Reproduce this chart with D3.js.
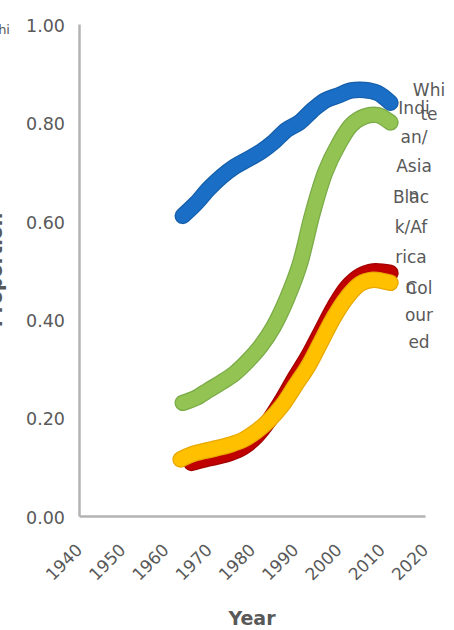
<!DOCTYPE html>
<html>
<head>
<meta charset="utf-8">
<script src="https://cdn.jsdelivr.net/npm/d3@7"></script>
<style>
  html, body { margin: 0; padding: 0; background: #ffffff; }
  svg { display: block; font-family: "DejaVu Sans", sans-serif; }
</style>
</head>
<body>
<svg id="chart" width="454" height="630"></svg>
<script>
// ---- data ----
const seriesNames = ["White", "Indian/Asian", "Black/African", "Coloured"];
const whiteYears = [1964, 1967, 1970, 1973, 1976, 1979, 1982, 1985, 1988, 1991, 1994, 1997, 2000, 2003, 2006, 2009, 2012];
const whiteValues = [0.61, 0.635, 0.665, 0.69, 0.71, 0.725, 0.74, 0.76, 0.785, 0.80, 0.825, 0.845, 0.855, 0.865, 0.866, 0.86, 0.84];
const indianYears = [1964, 1967, 1970, 1973, 1976, 1979, 1982, 1985, 1988, 1991, 1994, 1997, 2000, 2003, 2006, 2009, 2012];
const indianValues = [0.23, 0.24, 0.256, 0.272, 0.29, 0.315, 0.345, 0.385, 0.44, 0.51, 0.615, 0.70, 0.755, 0.795, 0.812, 0.815, 0.80];
const blackYears = [1966, 1969, 1972, 1975, 1978, 1981, 1984, 1987, 1990, 1993, 1996, 1999, 2002, 2005, 2008, 2012];
const blackValues = [0.108, 0.115, 0.121, 0.128, 0.14, 0.162, 0.195, 0.236, 0.282, 0.325, 0.375, 0.425, 0.465, 0.488, 0.497, 0.494];
const colouredYears = [1963.5, 1966, 1969, 1972, 1975, 1978, 1981, 1984, 1987, 1990, 1993, 1996, 1999, 2002, 2005, 2008, 2010, 2012];
const colouredValues = [0.115, 0.125, 0.132, 0.138, 0.145, 0.155, 0.172, 0.195, 0.225, 0.265, 0.305, 0.355, 0.405, 0.445, 0.472, 0.48, 0.478, 0.474];
const labelLines = [["Whi", "te"], ["Indi", "an/", "Asia", "n"], ["Blac", "k/Af", "rica", "n"], ["Col", "our", "ed"]];
const xTicks = [1940, 1950, 1960, 1970, 1980, 1990, 2000, 2010, 2020];
const yTicks = [0, 0.2, 0.4, 0.6, 0.8, 1.0];
const xTitle = "Year";
const yTitle = "Proportion";

// ---- styles / layout ----
const colors = ["#1a6ec6", "#92c353", "#c00000", "#ffc000"];
const edgeColors = ["#155fab", "#7aab48", "#a30000", "#e8a800"];
const labelLayout = [
  { cx: 429, y0: 96, lh: 24 },
  { cx: 414, y0: 114, lh: 29 },
  { cx: 411, y0: 203, lh: 30 },
  { cx: 419, y0: 294, lh: 27 }
];
const textColor = "#595959";
const axisColor = "#b3b3b3";

const svg = d3.select("#chart");
const x = d3.scaleLinear().domain([1940, 2020]).range([79, 425]);
const y = d3.scaleLinear().domain([0, 1]).range([516, 24]);

// Y axis
const yAxis = svg.append("g")
  .attr("transform", `translate(${x(1940)},0)`)
  .call(d3.axisLeft(y).tickValues(yTicks).tickSize(0).tickSizeOuter(0).tickPadding(14).tickFormat(d3.format(".2f")));
yAxis.select(".domain").attr("stroke", axisColor).attr("stroke-width", 2.5);
yAxis.selectAll("text")
  .attr("fill", textColor).attr("dy", "0.42em")
  .style("font-family", "DejaVu Sans, sans-serif").style("font-size", "17.5px");

// X axis
const xAxis = svg.append("g")
  .attr("transform", `translate(0,${y(0)})`)
  .call(d3.axisBottom(x).tickValues(xTicks).tickSize(0).tickSizeOuter(0).tickFormat(d3.format("d")));
xAxis.select(".domain").attr("stroke", axisColor).attr("stroke-width", 2.5);
xAxis.selectAll("text")
  .attr("fill", textColor)
  .attr("x", 0).attr("y", 0).attr("dy", 0)
  .attr("text-anchor", "end")
  .attr("transform", "translate(4,35) rotate(-45)")
  .style("font-family", "DejaVu Sans, sans-serif").style("font-size", "17px");

// Axis titles
svg.append("text")
  .attr("x", (x(1940) + x(2020)) / 2).attr("y", 625)
  .attr("text-anchor", "middle")
  .attr("fill", textColor)
  .style("font-weight", "bold").style("font-size", "19px")
  .text(xTitle);
svg.append("text")
  .attr("transform", `translate(2,${(y(0) + y(1)) / 2}) rotate(-90)`)
  .attr("text-anchor", "middle")
  .attr("fill", textColor)
  .style("font-weight", "bold").style("font-size", "19px")
  .text(yTitle);

// clipped fragment from a neighbouring panel (top-left)
svg.append("text")
  .attr("x", 10).attr("y", 34)
  .attr("text-anchor", "end")
  .attr("fill", textColor)
  .style("font-size", "13px")
  .text("Whi");

// Series
const series = [
  { years: whiteYears, values: whiteValues },
  { years: indianYears, values: indianValues },
  { years: blackYears, values: blackValues },
  { years: colouredYears, values: colouredValues }
];
const line = d3.line()
  .x(d => x(d[0]))
  .y(d => y(d[1]))
  .curve(d3.curveCatmullRom.alpha(0.5));

series.forEach((s, i) => {
  const pts = s.years.map((yr, k) => [yr, s.values[k]]);
  const g = svg.append("g").attr("class", "series").attr("data-name", seriesNames[i]);
  g.append("path")
    .attr("d", line(pts))
    .attr("fill", "none")
    .attr("stroke", edgeColors[i])
    .attr("stroke-width", 16.5)
    .attr("stroke-linecap", "round")
    .attr("stroke-linejoin", "round");
  g.append("path")
    .attr("d", line(pts))
    .attr("fill", "none")
    .attr("stroke", colors[i])
    .attr("stroke-width", 14)
    .attr("stroke-linecap", "round")
    .attr("stroke-linejoin", "round");
});

// Data labels (wrapped as in the original)
labelLines.forEach((lines, i) => {
  const L = labelLayout[i];
  const t = svg.append("text")
    .attr("text-anchor", "middle")
    .attr("fill", textColor)
    .style("font-size", "17px");
  lines.forEach((ln, k) => {
    t.append("tspan").attr("x", L.cx).attr("y", L.y0 + k * L.lh).text(ln);
  });
});
</script>
</body>
</html>
